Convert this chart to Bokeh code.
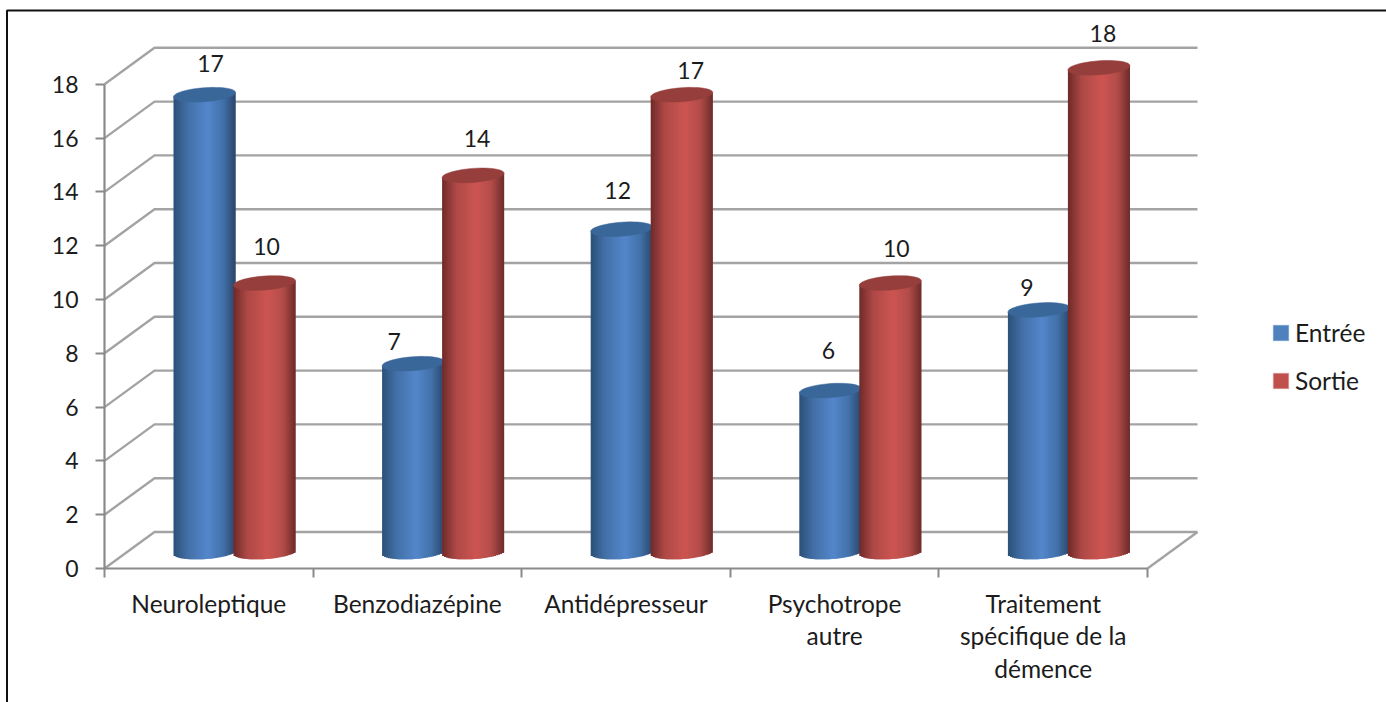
import math
from bokeh.plotting import figure
from bokeh.models import ColumnDataSource, Range1d, FixedTicker, Legend, LegendItem
from bokeh.embed import file_html
from bokeh.resources import INLINE
from bokeh.core.properties import value

# ---- data ----
categories = ["Neuroleptique", "Benzodiazépine", "Antidépresseur",
              "Psychotrope\nautre", "Traitement\nspécifique de la\ndémence"]
entree = [17, 7, 12, 6, 9]
sortie = [10, 14, 17, 10, 18]
y_ticks = [0, 2, 4, 6, 8, 10, 12, 14, 16, 18]

# ---- layout constants (screen px) ----
FIG_W, FIG_H = 1386, 702
ORIGIN_X, ORIGIN_Y = 104, 568
PX_X = 208.6
PX_Y = 26.9
DX = 50 / PX_X          # depth offset of the back wall
DY = 36.5 / PX_Y
BASE = 16.5 / PX_Y      # bars stand in the middle of the floor
CX = {"e": 100 / PX_X, "s": 160 / PX_X}
RX, RY, TILT = 31 / PX_X, 7.0 / PX_Y, 2.2 / PX_Y
FONT = "Lato"
FS = "24.5px"
FS_NUM = "23px"
TXT = "#1c1c1c"
GRID = "#a3a3a3"
AXIS = "#8a8a8a"

p = figure(width=FIG_W, height=FIG_H, output_backend="svg", toolbar_location=None,
           x_range=Range1d(-ORIGIN_X / PX_X, (FIG_W - ORIGIN_X) / PX_X),
           y_range=Range1d((ORIGIN_Y - FIG_H) / PX_Y, ORIGIN_Y / PX_Y),
           min_border=0)
p.outline_line_color = None
p.grid.visible = False

# axes
xa, ya = p.xaxis[0], p.yaxis[0]
xa.fixed_location = 0
ya.fixed_location = 0
xa.ticker = FixedTicker(ticks=[i + 0.5 for i in range(len(categories))],
                        minor_ticks=list(range(len(categories) + 1)))
xa.major_label_overrides = {i + 0.5: c for i, c in enumerate(categories)}
xa.bounds = (0, len(categories))
xa.major_tick_line_color = None
xa.minor_tick_in, xa.minor_tick_out = 0, 9
xa.minor_tick_line_color = AXIS
xa.minor_tick_line_width = 2
xa.major_tick_out = 12
xa.major_label_standoff = 8
xa.major_label_text_line_height = 1.13
ya.ticker = FixedTicker(ticks=y_ticks)
ya.bounds = (0, max(y_ticks))
ya.major_tick_in, ya.major_tick_out = 0, 9
ya.major_label_standoff = 17
for a in (xa, ya):
    a.axis_line_color = AXIS
    a.axis_line_width = 2.2
    a.major_label_text_font = FONT
    a.major_label_text_font_size = FS
    a.major_label_text_color = TXT
ya.major_label_text_font_size = FS_NUM
ya.major_tick_line_color = AXIS
ya.major_tick_line_width = 2

# picture frame: top and left rules only
def sx(px):
    return (px - ORIGIN_X) / PX_X

def sy(px):
    return (ORIGIN_Y - px) / PX_Y

p.line([sx(6.5), sx(6.5), sx(FIG_W)], [sy(FIG_H), sy(10), sy(10)], line_color="#111111", line_width=2)

# walls and floor
n = len(categories)
gx, gy = [], []
for v in y_ticks:
    gx.append([0, DX, n + DX])
    gy.append([v, v + DY, v + DY])
gx.append([n, n + DX])
gy.append([0, DY])
p.multi_line(gx, gy, line_color=GRID, line_width=2.4)


def lerp_colour(stops, t):
    for (t0, c0), (t1, c1) in zip(stops, stops[1:]):
        if t <= t1:
            f = (t - t0) / (t1 - t0)
            rgb = [round(int(c0[i:i + 2], 16) * (1 - f) + int(c1[i:i + 2], 16) * f) for i in (1, 3, 5)]
            return "#%02x%02x%02x" % tuple(rgb)
    return stops[-1][1]


BLUE = [(-1, "#2b5078"), (-0.55, "#436fa6"), (0.1, "#5387cb"), (0.6, "#4271a9"), (1, "#2a466a")]
RED = [(-1, "#6f2a29"), (-0.55, "#ad4946"), (0.1, "#cd5552"), (0.6, "#b24c49"), (1, "#6c2b29")]


def cylinders(vals, off, stops, cap):
    N = 31
    src = dict(left=[], right=[], top=[], bottom=[], color=[])
    for i, v in enumerate(vals):
        c = i + off
        top = BASE + v
        for k in range(N):
            t0, t1 = -1 + 2 * k / N, -1 + 2 * (k + 1) / N
            t = (t0 + t1) / 2
            # each strip runs under the next one so no seams show
            r = min(1, t1 + 2 / N)
            src["left"].append(c + RX * t0)
            src["right"].append(c + RX * r)
            src["top"].append(top + TILT * t)
            src["bottom"].append(BASE + TILT * t - RY * math.sqrt(max(0, 1 - t * t)))
            src["color"].append(lerp_colour(stops, t))
    p.quad(left="left", right="right", top="top", bottom="bottom", source=ColumnDataSource(src),
           fill_color="color", line_color=None)
    xs, ys = [], []
    for i, v in enumerate(vals):
        th = [2 * math.pi * k / 48 for k in range(48)]
        xs.append([i + off + RX * math.cos(a) for a in th])
        ys.append([BASE + v + TILT * math.cos(a) + RY * math.sin(a) for a in th])
    p.patches(xs, ys, fill_color=cap, line_color=cap, line_width=0.5)


cylinders(entree, CX["e"], BLUE, "#3a6799")
cylinders(sortie, CX["s"], RED, "#953e3b")

# value labels, hand-placed like the original (px offsets from the cap)
e_off = [(6, 31), (-19, 22), (-4, 39), (-2, 40), (-12, 22)]
s_off = [(2, 37), (4, 37), (9, 24), (6, 35), (4, 34)]
for vals, off, offs in ((entree, CX["e"], e_off), (sortie, CX["s"], s_off)):
    p.text(x=[i + off for i in range(n)], y=[BASE + v for v in vals], text=[str(v) for v in vals],
           x_offset=[o[0] for o in offs], y_offset=[-o[1] for o in offs],
           text_font=value(FONT), text_font_size=value(FS_NUM), text_color=TXT,
           text_align="center", text_baseline="middle")

# legend
nan = float("nan")
r1 = p.quad(left=[nan], right=[nan], top=[nan], bottom=[nan], fill_color="#4f81bd", line_color="#7aa0cf")
r2 = p.quad(left=[nan], right=[nan], top=[nan], bottom=[nan], fill_color="#c0504d", line_color="#d98a88")
legend = Legend(items=[LegendItem(label="Entrée", renderers=[r1]), LegendItem(label="Sortie", renderers=[r2])],
                location=(1271, FIG_H - 395), orientation="vertical",
                glyph_width=19, glyph_height=19, label_height=16, label_width=20,
                label_standoff=5, spacing=19, padding=0, margin=0,
                background_fill_alpha=0, border_line_color=None,
                label_text_font=FONT, label_text_font_size=FS, label_text_color=TXT,
                label_text_baseline="middle")
p.add_layout(legend)

open("out.html", "w").write(file_html(p, INLINE))
